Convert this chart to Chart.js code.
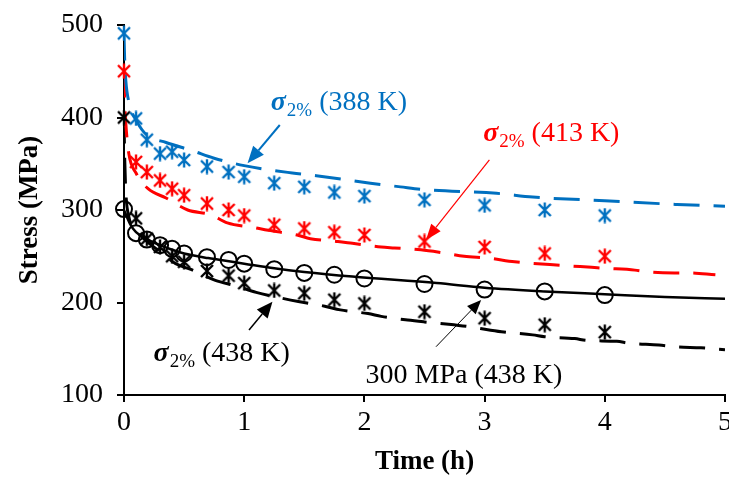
<!DOCTYPE html>
<html><head><meta charset="utf-8">
<script src="https://cdn.jsdelivr.net/npm/chart.js@4"></script>
<style>html,body{margin:0;padding:0;background:#fff}canvas{display:block}</style>
</head><body><canvas id="c" width="729" height="478"></canvas>
<script>
// ---- measured data (time in h, stress in MPa) ----
const timesMeasured = [0,0.1,0.19,0.3,0.4,0.5,0.69,0.87,1,1.25,1.5,1.75,2,2.5,3,3.5,4];
const sigma388 = [491,399,376,361,363,354,347,341,336,329,325,319,315,311,305,300,294];
const sigma413 = [450,352,341,332,323,316,307,300,294,284,280,276,273,266,260,253,250];
const sigma438 = [400,291,269,260,250,244,234,229,221,213,210,203,199,190,183,176,168];
const stress300 = [301,275,268,262,258,253,249,246,242,236,232,230,226,220,214,212,208];

// ---- fitted curves ----
const fit388T = [0,0.005,0.015,0.04,0.11,0.19,0.35,0.57,0.75,1.0,1.4,1.6,2.05,2.3,2.5,3.1,3.4,4.0,4.6,5];
const fit388V = [490,465,440,417,395,381,373,364,356,348,340,337,329,325,322,318,314,310,306,304];
const fit413T = [0,0.005,0.015,0.04,0.1,0.2,0.35,0.53,0.72,0.86,1.08,1.2,1.44,1.55,1.78,1.9,2.14,2.25,2.47,2.64,2.83,3.03,3.25,3.66,3.89,4.0,4.25,4.36,4.58,4.7,4.92];
const fit413V = [450,420,394,361,340,323,313,300,295,286,281,278,273,269,266,264,260,259,257,254,250,248,244,240,238,237,235,233,232,232,230];
const fit438T = [0,0.005,0.015,0.04,0.1,0.2,0.3,0.43,0.55,0.76,0.93,1.1,1.3,1.45,1.67,1.8,2.03,2.14,2.36,2.5,2.7,2.86,3.05,3.16,3.4,3.5,3.75,3.85,4.1,4.2,4.45,4.6,4.8,5];
const fit438V = [400,360,320,293,278,265,255,242,236,224,218,211,205,201,196,192,188,185,181,179,176.5,174,170,168,165,163,161,159,158,156,154,152,151,149];
const fit300T = [0,0.05,0.1,0.2,0.3,0.4,0.5,0.7,0.9,1,1.25,1.5,1.9,2.6,3,3.5,4,4.5,5];
const fit300V = [300,285,276,268,262,257,253,248,244,242,237,233,228,221,216,212,209,206,204];

const xTicks = [0,1,2,3,4,5];
const yTicks = [100,200,300,400,500];

// ---- annotations (data coordinates) ----
const labels = [
  {x:1.221, y:408, color:'#0070C0', rest:' (388 K)'},
  {x:2.988, y:374.5, color:'#FF0000', rest:' (413 K)'},
  {x:0.246, y:136.8, color:'#000000', rest:' (438 K)'}
];
const plainLabels = [{x:2.01, y:113, color:'#000000', text:'300 MPa (438 K)'}];
const arrows = [
  {x1:1.296, y1:391.9, x2:1.028, y2:350.5, color:'#0070C0', w:2, head:17, hw:7},
  {x1:3.04, y1:354.1, x2:2.5125, y2:267.6, color:'#FF0000', w:1.2, head:16, hw:6},
  {x1:1.04, y1:170.3, x2:1.235, y2:200.9, color:'#000000', w:1.5, head:16, hw:7},
  {x1:2.596, y1:152.2, x2:2.971, y2:202.7, color:'#000000', w:1, head:14, hw:6}
];

const FONT = '"Liberation Serif","Times New Roman",serif';
const pts = (xs, ys) => xs.map((x, i) => ({x, y: ys[i]}));

function starMarker(color) {
  const c = document.createElement('canvas');
  c.width = 16; c.height = 16;
  const g = c.getContext('2d');
  g.strokeStyle = color; g.lineWidth = 2.4; g.lineCap = 'butt';
  g.beginPath();
  g.moveTo(2,2); g.lineTo(14,14);
  g.moveTo(14,2); g.lineTo(2,14);
  g.moveTo(8,0.5); g.lineTo(8,15.5);
  g.stroke();
  return c;
}

const annot = {
  id: 'annot',
  afterDatasetsDraw(chart) {
    const ctx = chart.ctx, xs = chart.scales.x, ys = chart.scales.y;
    ctx.save();
    ctx.textBaseline = 'alphabetic'; ctx.textAlign = 'left';
    labels.forEach(l => {
      const px = xs.getPixelForValue(l.x), py = ys.getPixelForValue(l.y);
      ctx.fillStyle = l.color;
      ctx.font = 'italic bold 28px ' + FONT;
      ctx.fillText('σ', px, py);
      let w = ctx.measureText('σ').width + 1;
      ctx.font = '19px ' + FONT;
      ctx.fillText('2%', px + w, py + 6);
      w += ctx.measureText('2%').width;
      ctx.font = '28px ' + FONT;
      ctx.fillText(l.rest, px + w, py);
    });
    plainLabels.forEach(l => {
      ctx.fillStyle = l.color;
      ctx.font = '28px ' + FONT;
      ctx.fillText(l.text, xs.getPixelForValue(l.x), ys.getPixelForValue(l.y));
    });
    arrows.forEach(a => {
      const x1 = xs.getPixelForValue(a.x1), y1 = ys.getPixelForValue(a.y1);
      const x2 = xs.getPixelForValue(a.x2), y2 = ys.getPixelForValue(a.y2);
      const ang = Math.atan2(y2 - y1, x2 - x1);
      const bx = x2 - a.head * Math.cos(ang), by = y2 - a.head * Math.sin(ang);
      ctx.strokeStyle = a.color; ctx.fillStyle = a.color; ctx.lineWidth = a.w;
      ctx.beginPath(); ctx.moveTo(x1, y1); ctx.lineTo(bx, by); ctx.stroke();
      ctx.beginPath();
      ctx.moveTo(x2, y2);
      ctx.lineTo(bx + a.hw * Math.sin(ang), by - a.hw * Math.cos(ang));
      ctx.lineTo(bx - a.hw * Math.sin(ang), by + a.hw * Math.cos(ang));
      ctx.closePath(); ctx.fill();
    });
    ctx.restore();
  }
};

const markerDs = (data, style, color, radius) => ({
  data, showLine: false, pointStyle: style, pointRadius: radius,
  pointBorderColor: color, pointBackgroundColor: 'rgba(0,0,0,0)', pointBorderWidth: 2, clip: false
});
const lineDs = (data, color, dash, w) => ({
  data, showLine: true, borderColor: color, borderWidth: w, borderDash: dash,
  pointRadius: 0, cubicInterpolationMode: 'monotone', fill: false
});

new Chart(document.getElementById('c'), {
  type: 'scatter',
  data: {
    datasets: [
      markerDs(pts(timesMeasured, sigma388), starMarker('#0070C0'), '#0070C0', 8),
      markerDs(pts(timesMeasured, sigma413), starMarker('#FF0000'), '#FF0000', 8),
      markerDs(pts(timesMeasured, sigma438), starMarker('#000000'), '#000000', 8),
      markerDs(pts(timesMeasured, stress300), 'circle', '#000000', 8),
      lineDs(pts(fit388T, fit388V), '#0070C0', [26,14], 3),
      lineDs(pts(fit413T, fit413V), '#FF0000', [26,14], 3),
      lineDs(pts(fit438T, fit438V), '#000000', [26,14], 3),
      lineDs(pts(fit300T, fit300V), '#000000', [], 2.5)
    ]
  },
  options: {
    responsive: false, animation: false, devicePixelRatio: 1,
    layout: {autoPadding: false, padding: {top: 25, right: 4, left: 0, bottom: 0}},
    plugins: {legend: {display: false}, tooltip: {enabled: false}},
    scales: {
      x: {
        type: 'linear', min: 0, max: 5,
        afterBuildTicks(s) { s.ticks = xTicks.map(v => ({value: v})); },
        ticks: {color: '#000', font: {family: FONT, size: 28}, padding: 4, maxRotation: 0},
        grid: {drawOnChartArea: false, drawTicks: true, tickLength: 7, color: '#000', tickColor: '#000', lineWidth: 2},
        border: {color: '#000', width: 2},
        title: {display: true, text: 'Time (h)', color: '#000', font: {family: FONT, size: 27, weight: 'bold'}, padding: {top: 0, bottom: 0}},
        afterFit(s) { s.height = 83; s.paddingLeft = 0; s.paddingRight = 0; }
      },
      y: {
        type: 'linear', min: 100, max: 500,
        afterBuildTicks(s) { s.ticks = yTicks.map(v => ({value: v})); },
        ticks: {color: '#000', font: {family: FONT, size: 28}, padding: 14},
        grid: {drawOnChartArea: false, drawTicks: true, tickLength: 7, color: '#000', tickColor: '#000', lineWidth: 2},
        border: {color: '#000', width: 2},
        title: {display: true, text: 'Stress (MPa)', color: '#000', font: {family: FONT, size: 27, weight: 'bold'}, padding: {top: 14, bottom: 0}},
        afterFit(s) { s.width = 124; s.paddingTop = 0; s.paddingBottom = 0; }
      }
    }
  },
  plugins: [annot]
});
</script></body></html>
